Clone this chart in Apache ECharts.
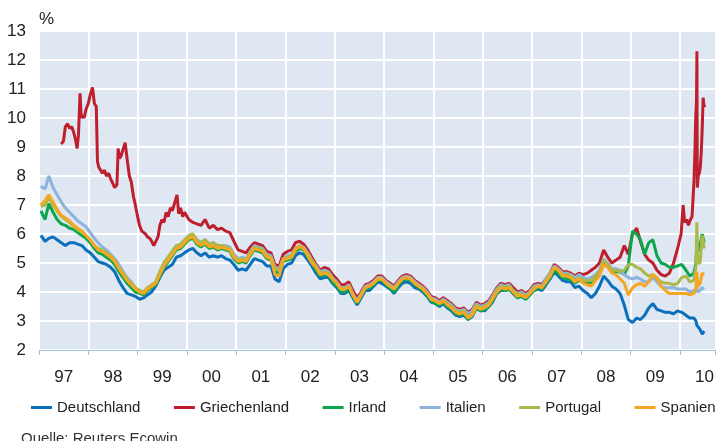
<!DOCTYPE html>
<html><head><meta charset="utf-8">
<script src="https://cdn.jsdelivr.net/npm/echarts@6/dist/echarts.min.js"></script>
<style>html,body{margin:0;padding:0;background:#fff}#c{width:717px;height:441px}</style>
</head><body><div id="c"></div>
<script>
const FONT = 'Liberation Sans, Arial, sans-serif';
const yearLabels = ['97','98','99','00','01','02','03','04','05','06','07','08','09','10'];
const seriesNames = ['Deutschland','Griechenland','Irland','Italien','Portugal','Spanien'];

// shared sampling grid: mid-month 1997-2009, then finer points in 2010
const monthly = [];
for (let y = 1997; y <= 2009; y++) for (let m = 1; m <= 12; m++) monthly.push(y + '-' + String(m).padStart(2,'0') + '-15');
const dates2010 = ['2010-01-15','2010-02-15','2010-03-15','2010-04-15','2010-04-30','2010-05-07','2010-05-14','2010-05-31','2010-06-15','2010-06-30'];
const dates = monthly.concat(dates2010);

const deutschland = [
5.95,5.75,5.85,5.9,5.8,5.7,5.6,5.7,5.7,5.65,5.6,5.45,
5.35,5.2,5.05,5.0,4.95,4.85,4.7,4.4,4.15,3.95,3.9,3.85,
3.75,3.8,3.9,4.0,4.2,4.5,4.75,4.85,4.95,5.2,5.25,5.35,
5.45,5.5,5.35,5.25,5.35,5.2,5.25,5.2,5.25,5.15,5.1,4.95,
4.75,4.8,4.75,4.95,5.15,5.1,5.05,4.9,4.9,4.45,4.35,4.8,
4.95,5.0,5.25,5.35,5.3,5.1,4.9,4.65,4.45,4.5,4.5,4.3,
4.15,3.95,3.95,4.05,3.8,3.55,3.8,4.05,4.05,4.2,4.35,4.3,
4.2,4.1,3.95,4.15,4.3,4.35,4.3,4.15,4.1,4.0,3.85,3.65,
3.6,3.5,3.6,3.45,3.35,3.2,3.15,3.2,3.05,3.15,3.45,3.35,
3.35,3.5,3.65,3.95,4.05,4.05,4.1,3.95,3.8,3.85,3.75,3.9,
4.05,4.1,4.05,4.25,4.45,4.7,4.55,4.4,4.35,4.35,4.15,4.2,
4.05,3.95,3.8,3.95,4.2,4.55,4.4,4.2,4.1,3.95,3.55,3.05,
2.95,3.1,3.05,3.2,3.45,3.6,3.4,3.35,3.3,3.3,3.25,3.35,
3.3,3.2,3.1,3.1,3.0,2.85,2.8,2.7,2.55,2.65];

const irland = [
6.8,6.5,7.05,6.75,6.5,6.35,6.3,6.2,6.15,6.05,5.95,5.85,
5.7,5.5,5.35,5.3,5.2,5.1,4.95,4.7,4.5,4.3,4.15,4.0,
3.95,3.9,4.05,4.15,4.25,4.55,4.85,5.05,5.25,5.45,5.5,5.65,
5.8,5.85,5.65,5.55,5.65,5.5,5.55,5.45,5.5,5.45,5.4,5.15,
5.0,5.05,5.0,5.25,5.45,5.4,5.35,5.15,5.1,4.7,4.65,5.05,
5.1,5.15,5.4,5.5,5.45,5.2,5.0,4.75,4.55,4.6,4.55,4.35,
4.2,4.0,4.0,4.15,3.85,3.6,3.85,4.1,4.15,4.25,4.4,4.4,
4.25,4.15,4.0,4.2,4.4,4.45,4.4,4.25,4.15,4.05,3.9,3.7,
3.6,3.55,3.65,3.5,3.4,3.25,3.2,3.25,3.05,3.2,3.45,3.35,
3.4,3.5,3.7,3.95,4.1,4.05,4.1,3.95,3.8,3.85,3.75,3.9,
4.05,4.15,4.1,4.3,4.5,4.75,4.65,4.5,4.45,4.45,4.3,4.4,
4.35,4.3,4.3,4.5,4.6,5.0,4.9,4.7,4.7,4.7,4.6,4.9,
6.1,6.0,5.8,5.3,5.7,5.8,5.25,5.0,4.95,4.85,4.85,4.9,
4.95,4.75,4.55,4.65,5.0,5.8,5.4,5.6,6.0,5.7];

const italien = [
7.65,7.55,8.0,7.6,7.35,7.1,6.9,6.75,6.6,6.45,6.35,6.25,
6.05,5.85,5.7,5.55,5.45,5.3,5.15,4.95,4.7,4.5,4.35,4.15,
4.05,4.0,4.15,4.2,4.35,4.7,5.0,5.2,5.4,5.6,5.6,5.75,
5.9,5.95,5.8,5.7,5.8,5.65,5.7,5.6,5.6,5.6,5.55,5.3,
5.15,5.2,5.15,5.4,5.6,5.55,5.5,5.3,5.25,4.85,4.8,5.15,
5.25,5.3,5.5,5.6,5.55,5.35,5.1,4.9,4.7,4.75,4.7,4.5,
4.35,4.15,4.15,4.25,3.95,3.7,3.95,4.2,4.25,4.35,4.5,4.5,
4.35,4.25,4.15,4.35,4.5,4.55,4.5,4.35,4.25,4.15,4.0,3.8,
3.75,3.65,3.75,3.65,3.55,3.4,3.35,3.4,3.25,3.35,3.6,3.5,
3.55,3.65,3.85,4.1,4.25,4.2,4.25,4.05,3.95,4.0,3.9,4.0,
4.2,4.25,4.2,4.45,4.65,4.9,4.8,4.65,4.65,4.6,4.5,4.6,
4.5,4.45,4.5,4.6,4.75,5.15,5.0,4.8,4.8,4.75,4.6,4.5,
4.45,4.5,4.45,4.35,4.35,4.5,4.35,4.2,4.15,4.15,4.15,4.1,
4.1,4.1,4.0,4.05,4.0,4.2,4.0,4.05,4.15,4.1];

const portugal = [
6.95,7.0,7.25,7.0,6.8,6.6,6.5,6.4,6.25,6.15,6.05,5.95,
5.8,5.6,5.5,5.45,5.35,5.25,5.1,4.85,4.65,4.45,4.3,4.15,
4.05,4.0,4.15,4.25,4.35,4.7,5.0,5.2,5.4,5.6,5.65,5.8,
5.95,6.0,5.8,5.7,5.8,5.65,5.7,5.6,5.6,5.55,5.5,5.25,
5.1,5.15,5.1,5.35,5.55,5.5,5.45,5.25,5.2,4.8,4.75,5.15,
5.2,5.25,5.5,5.55,5.5,5.3,5.1,4.85,4.65,4.7,4.65,4.45,
4.3,4.1,4.1,4.2,3.9,3.65,3.9,4.15,4.2,4.3,4.45,4.45,
4.3,4.2,4.1,4.3,4.45,4.5,4.45,4.3,4.2,4.1,3.95,3.75,
3.7,3.6,3.7,3.6,3.5,3.35,3.3,3.35,3.15,3.25,3.55,3.45,
3.5,3.6,3.8,4.05,4.2,4.15,4.2,4.05,3.9,3.95,3.85,3.95,
4.15,4.2,4.15,4.4,4.6,4.85,4.75,4.6,4.6,4.55,4.4,4.5,
4.4,4.4,4.4,4.55,4.7,5.1,4.95,4.75,4.75,4.7,4.75,4.95,
4.95,4.85,4.8,4.65,4.55,4.6,4.45,4.35,4.3,4.3,4.25,4.3,
4.5,4.55,4.35,4.4,4.9,6.4,5.0,5.0,5.95,5.5];

const spanien = [
7.0,7.15,7.35,7.1,6.85,6.65,6.55,6.45,6.3,6.2,6.1,5.95,
5.8,5.6,5.45,5.4,5.3,5.2,5.05,4.8,4.6,4.4,4.25,4.1,
4.0,3.95,4.1,4.2,4.3,4.6,4.9,5.1,5.3,5.5,5.55,5.7,
5.85,5.9,5.7,5.6,5.7,5.55,5.6,5.5,5.55,5.5,5.45,5.2,
5.05,5.1,5.05,5.3,5.5,5.45,5.4,5.2,5.15,4.6,4.55,5.1,
5.15,5.2,5.45,5.6,5.5,5.25,5.0,4.85,4.6,4.65,4.6,4.45,
4.3,4.1,4.1,4.2,3.9,3.65,3.9,4.15,4.2,4.3,4.45,4.45,
4.3,4.2,4.1,4.3,4.45,4.5,4.45,4.3,4.2,4.1,3.95,3.75,
3.7,3.6,3.7,3.55,3.45,3.3,3.25,3.3,3.1,3.2,3.5,3.4,
3.45,3.55,3.75,4.0,4.15,4.1,4.15,4.0,3.85,3.9,3.8,3.95,
4.1,4.2,4.15,4.35,4.55,4.85,4.75,4.55,4.55,4.5,4.35,4.45,
4.3,4.25,4.2,4.4,4.55,4.95,4.85,4.65,4.6,4.45,4.3,3.9,
4.15,4.25,4.3,4.2,4.35,4.6,4.5,4.2,4.05,3.95,3.95,3.95,
3.95,3.95,3.9,3.95,4.15,4.7,4.2,4.3,4.65,4.6];

// Griechenland: own dates (series starts mid-1997, sharper moves)
const grDatesEarly = ['1997-06-15','1997-07-01','1997-07-15','1997-08-01','1997-08-15','1997-09-01','1997-09-15','1997-10-01','1997-10-10','1997-10-20',
'1997-11-01','1997-11-10','1997-11-20','1997-12-01','1997-12-15','1998-01-01','1998-01-15','1998-02-01','1998-02-15','1998-03-01',
'1998-03-10','1998-03-20','1998-04-01','1998-04-15','1998-05-01','1998-05-15','1998-06-01','1998-06-15','1998-07-01','1998-07-15',
'1998-08-01','1998-08-10','1998-08-20','1998-09-01','1998-09-15','1998-10-01','1998-10-15','1998-11-01','1998-11-15','1998-12-01',
'1998-12-15','1999-01-01','1999-01-15','1999-02-01','1999-02-15','1999-03-01','1999-03-15','1999-04-01','1999-04-15','1999-05-01',
'1999-05-15','1999-06-01','1999-06-15','1999-07-01','1999-07-15','1999-08-01','1999-08-15','1999-09-01','1999-09-15','1999-10-01',
'1999-10-20','1999-11-01','1999-11-15','1999-12-01','1999-12-15'];
const grEarly = [9.1,9.2,9.7,9.8,9.65,9.7,9.5,9.2,8.95,9.4,
10.85,10.0,10.1,10.0,10.3,10.5,10.8,11.05,10.5,10.4,
8.5,8.3,8.35,8.1,8.2,8.0,8.1,7.9,7.75,7.6,
7.7,8.95,8.6,8.7,8.75,9.15,8.6,8.0,7.8,7.3,
7.0,6.6,6.3,6.1,6.15,6.0,5.9,5.85,5.75,5.6,
5.65,5.9,6.3,6.5,6.4,6.75,6.6,6.9,6.8,7.05,
7.35,6.7,6.9,6.6,6.75];
const grMonthly = [ // mid-month 2000-2009
6.5,6.4,6.35,6.3,6.5,6.2,6.3,6.15,6.2,6.1,6.05,5.75,
5.45,5.4,5.35,5.55,5.7,5.65,5.6,5.4,5.35,4.95,4.9,5.3,
5.4,5.45,5.7,5.75,5.65,5.45,5.2,4.95,4.75,4.85,4.8,4.6,
4.45,4.25,4.25,4.35,4.05,3.8,4.0,4.25,4.3,4.4,4.55,4.55,
4.4,4.3,4.2,4.4,4.55,4.6,4.55,4.4,4.3,4.2,4.05,3.85,
3.8,3.7,3.8,3.7,3.6,3.45,3.4,3.45,3.3,3.4,3.65,3.55,
3.6,3.7,3.9,4.15,4.3,4.25,4.3,4.15,4.0,4.05,3.95,4.05,
4.25,4.3,4.25,4.45,4.65,4.95,4.85,4.7,4.7,4.65,4.55,4.65,
4.6,4.65,4.75,4.85,5.0,5.45,5.2,5.0,5.1,5.2,5.6,5.3,
6.0,6.2,5.75,5.3,5.1,5.0,4.75,4.6,4.55,4.65,5.0,5.5];
const grDates2010 = ['2010-01-10','2010-01-25','2010-02-05','2010-02-20','2010-03-05','2010-03-20','2010-04-01','2010-04-08','2010-04-15','2010-04-22',
'2010-04-28','2010-05-04','2010-05-07','2010-05-10','2010-05-17','2010-05-25','2010-06-01','2010-06-08','2010-06-15','2010-06-22','2010-06-29','2010-07-05'];
const gr2010 = [6.0,7.0,6.4,6.5,6.3,6.5,6.6,7.2,7.8,8.8,
10.0,10.6,12.3,7.6,8.0,8.1,8.3,8.8,9.6,10.7,10.4,10.45];

const colors = ['#0b6fbb','#bf1f2c','#0ba64b','#8db3dc','#a9b94a','#f6a623'];

function toYear(s) {
  const [y, m, d] = s.split('-').map(Number);
  const a = Date.UTC(y, 0, 1), b = Date.UTC(y + 1, 0, 1);
  return y + (Date.UTC(y, m - 1, d) - a) / (b - a);
}
function pairs(ds, vs) { return ds.map((d, i) => [toYear(d), vs[i]]); }

const grMonthDates = monthly.filter(d => d >= '2000');
const grData = pairs(grDatesEarly, grEarly).concat(pairs(grMonthDates, grMonthly), pairs(grDates2010, gr2010));
const seriesData = [pairs(dates, deutschland), grData, pairs(dates, irland), pairs(dates, italien), pairs(dates, portugal), pairs(dates, spanien)];

const labelValues = yearLabels.map((_, i) => 1997.5 + i);

const chart = echarts.init(document.getElementById('c'), null, {renderer: 'canvas'});
chart.setOption({
  animation: false,
  textStyle: {fontFamily: FONT},
  title: {text: '%', left: 39, top: 11, padding: 0, textStyle: {fontSize: 17, fontWeight: 'normal', color: '#222', fontFamily: FONT}},
  grid: {left: 39, right: 0, top: 31, bottom: 91, show: true, backgroundColor: '#dfe7f2', borderWidth: 0},
  xAxis: {
    type: 'value', min: 1997, max: 2010.72, interval: 1,
    axisLine: {show: true, lineStyle: {color: '#9dbfe0', width: 1}},
    axisTick: {show: true, length: 5, lineStyle: {color: '#9dbfe0', width: 1}},
    splitLine: {show: true, lineStyle: {color: '#ffffff', width: 2}},
    axisLabel: {
      customValues: labelValues, margin: 19, fontSize: 17, color: '#222', fontFamily: FONT,
      formatter: v => yearLabels[Math.floor(v) - 1997] || ''
    }
  },
  yAxis: {
    type: 'value', min: 2, max: 13, interval: 1,
    axisLine: {show: false}, axisTick: {show: false},
    splitLine: {show: true, lineStyle: {color: '#ffffff', width: 2}},
    axisLabel: {margin: 13, fontSize: 17, color: '#222', fontFamily: FONT}
  },
  legend: {
    data: seriesNames, left: 31, top: 400, width: 720, padding: 0, icon: 'rect', itemWidth: 21, itemHeight: 3, itemGap: 33.5,
    textStyle: {fontSize: 15, color: '#222', fontFamily: FONT}
  },
  graphic: [{type: 'text', left: 21, top: 431, style: {text: 'Quelle: Reuters Ecowin', font: '15px ' + FONT, fill: '#333'}}],
  series: seriesNames.map((n, i) => ({
    name: n, type: 'line', data: seriesData[i], showSymbol: false, symbol: 'none',
    lineStyle: {width: 3, color: colors[i]}, itemStyle: {color: colors[i]}, z: 2 + i
  }))
});
</script></body></html>
